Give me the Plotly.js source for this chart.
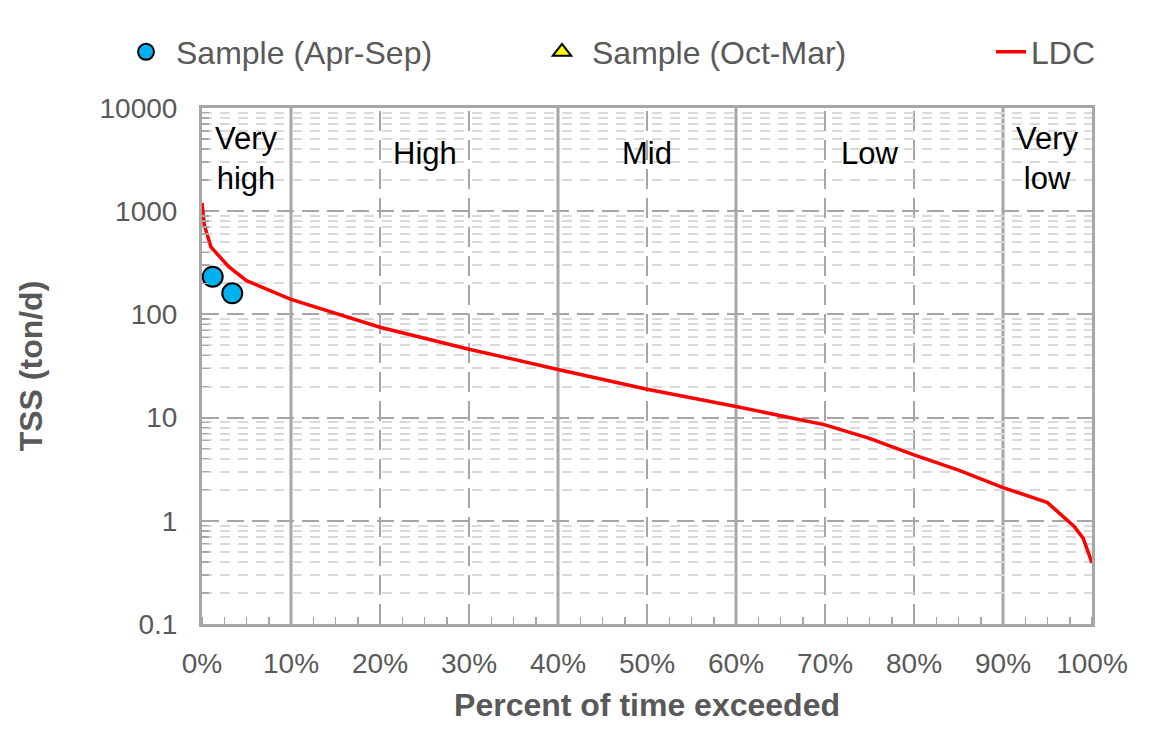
<!DOCTYPE html>
<html>
<head>
<meta charset="utf-8">
<script src="https://cdn.plot.ly/plotly-3.0.1.min.js"></script>
<style>
  html, body { margin: 0; padding: 0; background: #ffffff; }
  #chart { width: 1150px; height: 748px; }
</style>
</head>
<body>
<div id="chart"></div>
<script>
// Load duration curve: percent of time exceeded vs. TSS load (ton/d)
const ldcPercent = [0, 0.25, 1, 3, 5, 10, 20, 30, 40, 50, 60, 70, 75, 80, 85, 90, 95, 98, 99, 100];
const ldcLoad    = [1200, 740, 450, 290, 212, 140, 75, 46, 29.3, 18.8, 12.8, 8.5, 6.3, 4.35, 3.1, 2.1, 1.5, 0.88, 0.68, 0.39];

// Observed loads, warm season (Apr-Sep)
const warmPercent = [1.2, 3.4];
const warmLoad    = [232, 160];

// Observed loads, cold season (Oct-Mar): none recorded
const coldPercent = [null];
const coldLoad    = [null];

// Flow zones
const zoneNames   = ['Very<br>high', 'High', 'Mid', 'Low', 'Very<br>low'];
const zoneCenters = [5, 25, 50, 75, 95];
const zoneBounds  = [10, 40, 60, 90];
const minorDivs   = [20, 30, 50, 70, 80];

// Axis ticks
const xTicks = [0, 10, 20, 30, 40, 50, 60, 70, 80, 90, 100];
const xTickText = xTicks.map(v => v + '%');
const yTicks = [0.1, 1, 10, 100, 1000, 10000];
const yTickText = ['0.1', '1', '10', '100', '1000', '10000'];

const GRAY_TEXT = '#595959';
const GRID_MAJOR = '#a6a6a6';
const GRID_MINOR = '#d9d9d9';
const FONT = 'Liberation Sans, Arial, sans-serif';

// minor log gridlines at 2..9 of every decade
const yMinor = [];
for (let d = -1; d < 4; d++) {
  for (let m = 2; m <= 9; m++) yMinor.push(m * Math.pow(10, d));
}

const traces = [
  {
    x: warmPercent, y: warmLoad, name: 'Sample (Apr-Sep)', legend: 'legend',
    type: 'scatter', mode: 'markers',
    marker: { symbol: 'circle', size: 20, color: '#00b0f0', line: { color: '#000000', width: 2 } }
  },
  {
    x: coldPercent, y: coldLoad, name: 'Sample (Oct-Mar)', legend: 'legend2',
    type: 'scatter', mode: 'markers',
    marker: { symbol: 'triangle-up', size: 16, color: '#ffff00', line: { color: '#000000', width: 2 } }
  },
  {
    x: ldcPercent, y: ldcLoad, name: 'LDC', legend: 'legend3',
    type: 'scatter', mode: 'lines',
    line: { color: '#ff0000', width: 3.5 }
  }
];

const shapes = [];
zoneBounds.forEach(v => shapes.push({
  type: 'line', xref: 'x', yref: 'paper', x0: v, x1: v, y0: 0, y1: 1,
  line: { color: GRID_MAJOR, width: 3 }, layer: 'below'
}));
minorDivs.forEach(v => shapes.push({
  type: 'line', xref: 'x', yref: 'paper', x0: v, x1: v, y0: 0, y1: 1,
  line: { color: GRID_MAJOR, width: 2, dash: '20px,9px' }, layer: 'below'
}));

const annotations = zoneNames.map((t, i) => ({
  x: zoneCenters[i], xref: 'x',
  y: t.indexOf('<br>') >= 0 ? 0.903 : 0.912, yref: 'paper',
  xanchor: 'center', yanchor: 'middle',
  text: t, showarrow: false, align: 'center',
  font: { family: FONT, size: 31, color: '#000000' }
}));

function legendAt(xPx, symbolWidth) {
  return {
    orientation: 'h', xref: 'container', yref: 'container',
    x: xPx / 1150, y: 1 - 52 / 748, xanchor: 'left', yanchor: 'middle',
    itemwidth: symbolWidth,
    font: { family: FONT, size: 32, color: GRAY_TEXT },
    bgcolor: 'rgba(0,0,0,0)', borderwidth: 0
  };
}

const layout = {
  width: 1150, height: 748,
  margin: { l: 202, r: 58, t: 108, b: 124 },
  paper_bgcolor: '#ffffff', plot_bgcolor: '#ffffff',
  font: { family: FONT, color: GRAY_TEXT, size: 28 },
  showlegend: true,
  legend: legendAt(116, 50),
  legend2: legendAt(532, 50),
  legend3: legendAt(991, 30),
  xaxis: {
    range: [0, 100], tickmode: 'array', tickvals: xTicks, ticktext: xTickText,
    showgrid: false, zeroline: false,
    showline: true, mirror: true, linecolor: GRID_MAJOR, linewidth: 3,
    ticks: '', ticklabelstandoff: 12,
    tickfont: { family: FONT, size: 28, color: GRAY_TEXT },
    minor: { dtick: 2.5, ticks: 'inside', ticklen: 7, tickcolor: GRID_MAJOR, tickwidth: 1.5, showgrid: false },
    title: { text: '<b>Percent of time exceeded</b>', font: { family: FONT, size: 32, color: GRAY_TEXT }, standoff: 17 }
  },
  yaxis: {
    type: 'log', range: [-1, 4],
    tickmode: 'array', tickvals: yTicks, ticktext: yTickText,
    showgrid: true, gridcolor: GRID_MAJOR, gridwidth: 2, griddash: '17px,8px',
    zeroline: false,
    showline: true, mirror: true, linecolor: GRID_MAJOR, linewidth: 3,
    ticks: '', ticklabelstandoff: 16,
    tickfont: { family: FONT, size: 28, color: GRAY_TEXT },
    minor: {
      tickmode: 'array', tickvals: yMinor, ticks: 'inside', ticklen: 7,
      tickcolor: GRID_MAJOR, tickwidth: 1.5,
      showgrid: true, gridcolor: GRID_MINOR, gridwidth: 2, griddash: '10px,8px'
    },
    title: { text: '<b>TSS (ton/d)</b>', font: { family: FONT, size: 32, color: GRAY_TEXT }, standoff: 48 }
  },
  shapes: shapes,
  annotations: annotations
};

Plotly.newPlot('chart', traces, layout, { displayModeBar: false, staticPlot: true });
</script>
</body>
</html>
